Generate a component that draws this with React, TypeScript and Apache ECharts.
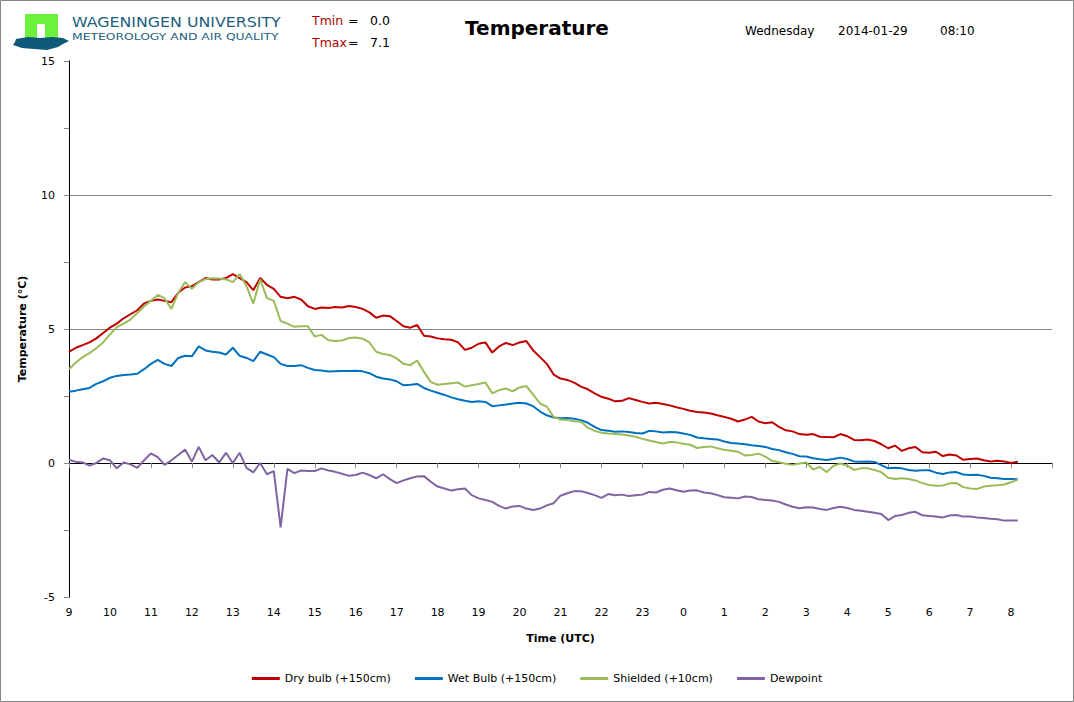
import React, { useEffect, useRef } from 'react'
import * as echarts from 'echarts'

// one reading every 10 minutes, starting 09:00 UTC (hours after 09:00)
const dryBulb = [
  4.15, 4.3, 4.4, 4.5, 4.65, 4.85, // 09
  5.05, 5.2, 5.4, 5.55, 5.7, 5.95, // 10
  6.05, 6.1, 6.05, 6.0, 6.35, 6.55, // 11
  6.6, 6.75, 6.9, 6.85, 6.85, 6.9, // 12
  7.05, 6.9, 6.75, 6.45, 6.9, 6.65, // 13
  6.5, 6.2, 6.15, 6.2, 6.1, 5.85, // 14
  5.75, 5.8, 5.78, 5.82, 5.8, 5.86, // 15
  5.82, 5.75, 5.62, 5.42, 5.5, 5.48, // 16
  5.3, 5.1, 5.05, 5.15, 4.75, 4.72, // 17
  4.65, 4.62, 4.6, 4.5, 4.22, 4.3, // 18
  4.45, 4.5, 4.12, 4.35, 4.48, 4.4, // 19
  4.5, 4.55, 4.2, 3.95, 3.7, 3.3, // 20
  3.15, 3.1, 3.0, 2.85, 2.75, 2.6, // 21
  2.47, 2.4, 2.3, 2.32, 2.42, 2.35, // 22
  2.28, 2.22, 2.25, 2.2, 2.15, 2.08, // 23
  2.02, 1.95, 1.9, 1.88, 1.85, 1.78, // 00
  1.72, 1.65, 1.55, 1.62, 1.72, 1.55, // 01
  1.48, 1.52, 1.35, 1.22, 1.18, 1.08, // 02
  1.05, 1.08, 0.98, 0.97, 0.96, 1.08, // 03
  1.0, 0.86, 0.85, 0.88, 0.82, 0.7, // 04
  0.55, 0.65, 0.45, 0.55, 0.6, 0.4, // 05
  0.38, 0.42, 0.26, 0.32, 0.28, 0.12, // 06
  0.15, 0.17, 0.1, 0.06, 0.08, 0.06, // 07
  0.0, 0.05 // 08
]

const wetBulb = [
  2.66, 2.7, 2.75, 2.8, 2.95, 3.05,
  3.18, 3.25, 3.28, 3.3, 3.33, 3.5,
  3.7, 3.85, 3.7, 3.62, 3.92, 4.0,
  3.98, 4.35, 4.2, 4.15, 4.12, 4.05,
  4.3, 4.0, 3.92, 3.8, 4.15, 4.05,
  3.95, 3.7, 3.62, 3.62, 3.65, 3.55,
  3.47, 3.45, 3.41, 3.42, 3.43, 3.43,
  3.44, 3.42, 3.35, 3.22, 3.15, 3.12,
  3.05, 2.9, 2.92, 2.95, 2.8, 2.7,
  2.62, 2.54, 2.45, 2.38, 2.32, 2.28,
  2.3, 2.28, 2.12, 2.15, 2.18, 2.22,
  2.25, 2.22, 2.12, 1.92, 1.78, 1.7,
  1.67, 1.68, 1.65, 1.6, 1.5, 1.35,
  1.23, 1.2, 1.17, 1.18, 1.16, 1.12,
  1.1, 1.2, 1.18, 1.14, 1.16, 1.15,
  1.1, 1.05, 0.95, 0.92, 0.9, 0.88,
  0.8, 0.75, 0.73, 0.7, 0.66, 0.63,
  0.6, 0.52, 0.48, 0.4, 0.34, 0.25,
  0.24, 0.18, 0.14, 0.11, 0.15, 0.2,
  0.15, 0.06, 0.05, 0.06, 0.04, -0.08,
  -0.2, -0.18, -0.2, -0.26, -0.29, -0.27,
  -0.27, -0.36, -0.41, -0.35, -0.34, -0.43,
  -0.45, -0.44, -0.48, -0.55, -0.57, -0.6,
  -0.6, -0.61
]

const shielded = [
  3.5, 3.75, 3.95, 4.1, 4.28, 4.5,
  4.8, 5.07, 5.2, 5.35, 5.6, 5.85,
  6.05, 6.27, 6.15, 5.75, 6.35, 6.75,
  6.5, 6.75, 6.86, 6.89, 6.88, 6.85,
  6.75, 7.05, 6.6, 5.95, 6.85, 6.15,
  6.05, 5.3, 5.2, 5.08, 5.1, 5.1,
  4.72, 4.78, 4.58, 4.55, 4.57, 4.66,
  4.68, 4.64, 4.5, 4.15, 4.07, 4.03,
  3.9, 3.7, 3.65, 3.82, 3.4, 3.02,
  2.92, 2.95, 2.98, 3.0, 2.85, 2.9,
  2.95, 3.0, 2.6, 2.72, 2.78, 2.67,
  2.82, 2.87, 2.55, 2.22, 2.1, 1.72,
  1.62, 1.6, 1.56, 1.54, 1.32, 1.2,
  1.13, 1.1, 1.08, 1.06, 1.03, 0.98,
  0.9, 0.84, 0.78, 0.73, 0.78, 0.77,
  0.72, 0.68, 0.56, 0.6, 0.62, 0.55,
  0.49, 0.46, 0.42, 0.28, 0.3, 0.35,
  0.24, 0.08, 0.03, -0.03, -0.07, -0.02,
  0.02, -0.24, -0.15, -0.34, -0.1, -0.02,
  -0.1, -0.26, -0.2, -0.2, -0.26, -0.34,
  -0.55, -0.6, -0.57, -0.6, -0.65, -0.75,
  -0.82, -0.85, -0.84, -0.76, -0.75, -0.9,
  -0.95, -0.97, -0.88, -0.85, -0.83, -0.8,
  -0.72, -0.61
]

const dewpoint = [
  0.11, 0.05, 0.02, -0.1, 0.0, 0.17,
  0.1, -0.2, 0.02, -0.05, -0.18, 0.1,
  0.36, 0.22, -0.07, 0.1, 0.3, 0.5,
  0.05, 0.6, 0.1, 0.3, 0.02, 0.38,
  0.0, 0.38, -0.18, -0.35, 0.0, -0.42,
  -0.3, -2.4, -0.22, -0.38, -0.28, -0.3,
  -0.3, -0.2, -0.28, -0.33, -0.4, -0.48,
  -0.45, -0.36, -0.45, -0.57, -0.42, -0.6,
  -0.75, -0.65, -0.57, -0.5, -0.49, -0.7,
  -0.88, -0.95, -1.03, -0.98, -0.95, -1.2,
  -1.32, -1.38, -1.45, -1.6, -1.7, -1.62,
  -1.6, -1.7, -1.75, -1.7, -1.58, -1.5,
  -1.22, -1.13, -1.05, -1.05, -1.12, -1.2,
  -1.3, -1.16, -1.2, -1.18, -1.23, -1.2,
  -1.18, -1.08, -1.1, -1.0, -0.95, -1.02,
  -1.07, -1.03, -1.02, -1.1, -1.13, -1.2,
  -1.28, -1.3, -1.32, -1.25, -1.27, -1.35,
  -1.38, -1.4, -1.45, -1.55, -1.63, -1.69,
  -1.65, -1.66, -1.72, -1.75, -1.68, -1.63,
  -1.68, -1.75, -1.78, -1.82, -1.86, -1.9,
  -2.13, -1.98, -1.94, -1.86, -1.82, -1.95,
  -1.98, -2.0, -2.03, -1.96, -1.94, -2.0,
  -2.0, -2.03, -2.05, -2.08, -2.1, -2.15,
  -2.15, -2.15
]

const startHour = 9
const hours = dryBulb.map((_, i) => i / 6)
const seriesNames = ['Dry bulb (+150cm)', 'Wet Bulb (+150cm)', 'Shielded (+10cm)', 'Dewpoint']
const seriesColors = ['#C00000', '#0070C0', '#9BBB59', '#8064A2']
const seriesData = [dryBulb, wetBulb, shielded, dewpoint]

const FONT = '"DejaVu Sans", Verdana, sans-serif'
const GREY = '#868686'

const App: React.FC = () => {
  const chartRef = useRef<HTMLDivElement>(null)

  useEffect(() => {
    document.body.style.margin = '0'
    if (!chartRef.current) return
    const chart = echarts.init(chartRef.current, null, { renderer: 'svg' })

    const txt = (text: string, x: number, y: number, extra: any = {}, scaleX = 1) => ({
      type: 'text',
      x,
      y,
      scaleX,
      silent: true,
      style: { text, fontFamily: FONT, fontSize: 12, fill: '#000', verticalAlign: 'middle', ...extra }
    })

    const option = {
      animation: false,
      backgroundColor: '#fff',
      textStyle: { fontFamily: FONT },
      grid: { left: 69, right: 22, top: 61, bottom: 105 },
      legend: {
        data: seriesNames,
        top: 668,
        left: 'center',
        icon: 'rect',
        itemWidth: 28,
        itemHeight: 3,
        itemGap: 24,
        textStyle: { fontSize: 11, color: '#000', fontFamily: FONT }
      },
      xAxis: [
        {
          type: 'value',
          min: 0,
          max: 24,
          interval: 1,
          name: 'Time (UTC)',
          nameLocation: 'middle',
          nameGap: 36,
          nameTextStyle: { fontWeight: 'bold', fontSize: 11, color: '#000', fontFamily: FONT },
          axisLine: { lineStyle: { color: GREY } },
          axisTick: { length: 5, lineStyle: { color: GREY } },
          axisLabel: {
            fontSize: 11,
            color: '#000',
            margin: 10,
            formatter: (v: number) => (v >= 24 ? '' : String((v + startHour) % 24))
          },
          splitLine: { show: false }
        },
        {
          type: 'value',
          position: 'top',
          min: 0,
          max: 24,
          axisLine: { show: true, lineStyle: { color: '#000' } },
          axisTick: { show: false },
          axisLabel: { show: false },
          splitLine: { show: false }
        }
      ],
      yAxis: [
        {
          type: 'value',
          min: -5,
          max: 15,
          interval: 5,
          name: 'Temperature (°C)',
          nameLocation: 'middle',
          nameGap: 41,
          nameTextStyle: { fontWeight: 'bold', fontSize: 11, color: '#000', fontFamily: FONT },
          axisLine: { show: true, lineStyle: { color: GREY } },
          axisTick: { show: true, length: 5, lineStyle: { color: GREY } },
          minorTick: { show: true, splitNumber: 2, length: 5, lineStyle: { color: GREY } },
          axisLabel: { fontSize: 11, color: '#000', margin: 14 },
          splitLine: { show: true, showMinLine: false, showMaxLine: false, lineStyle: { color: GREY } }
        },
        {
          type: 'value',
          position: 'right',
          min: -5,
          max: 15,
          axisLine: { show: true, lineStyle: { color: '#000' } },
          axisTick: { show: false },
          axisLabel: { show: false },
          splitLine: { show: false }
        }
      ],
      series: seriesData.map((vals, k) => ({
        name: seriesNames[k],
        type: 'line',
        data: vals.map((v, i) => [hours[i], v]),
        symbol: 'none',
        showSymbol: false,
        color: seriesColors[k],
        lineStyle: { width: 2, color: seriesColors[k] }
      })),
      graphic: [
        {
          type: 'rect',
          silent: true,
          shape: { x: 0.5, y: 0.5, width: 1073, height: 701 },
          style: { fill: 'none', stroke: GREY, lineWidth: 1 }
        },
        // logo
        {
          type: 'rect',
          silent: true,
          shape: { x: 25, y: 14, width: 33, height: 26 },
          style: { fill: '#6CF23C' }
        },
        {
          type: 'rect',
          silent: true,
          shape: { x: 37, y: 24, width: 8, height: 16 },
          style: { fill: '#fff' }
        },
        {
          type: 'polygon',
          silent: true,
          shape: {
            points: [[16, 39], [28, 37], [40, 38], [52, 37], [63, 38], [69, 41], [63, 44], [58, 47], [47, 50], [34, 49], [22, 48], [13, 45], [15, 42]]
          },
          style: { fill: '#0E5878' }
        },
        txt('WAGENINGEN UNIVERSITY', 72, 22, { fontSize: 14, fill: '#1D5E7E' }, 1.13),
        txt('METEOROLOGY AND AIR QUALITY', 72, 37, { fontSize: 9.5, fill: '#1D5E7E' }, 1.3),
        txt('Tmin', 312, 20, { fontSize: 12.5, fill: '#B00000' }),
        txt('=', 348, 20, { fontSize: 12.5 }),
        txt('0.0', 370, 20, { fontSize: 12.5 }),
        txt('Tmax', 312, 42, { fontSize: 12.5, fill: '#B00000' }),
        txt('=', 348, 42, { fontSize: 12.5 }),
        txt('7.1', 370, 42, { fontSize: 12.5 }),
        txt('Temperature', 537, 28, { fontSize: 20, fontWeight: 'bold', align: 'center' }),
        txt('Wednesday', 745, 31),
        txt('2014-01-29', 838, 31),
        txt('08:10', 940, 31)
      ]
    }

    chart.setOption(option)

    return () => {
      chart.dispose()
    }
  }, [])

  return <div ref={chartRef} style={{ width: '1074px', height: '702px' }} />
}

export default App
